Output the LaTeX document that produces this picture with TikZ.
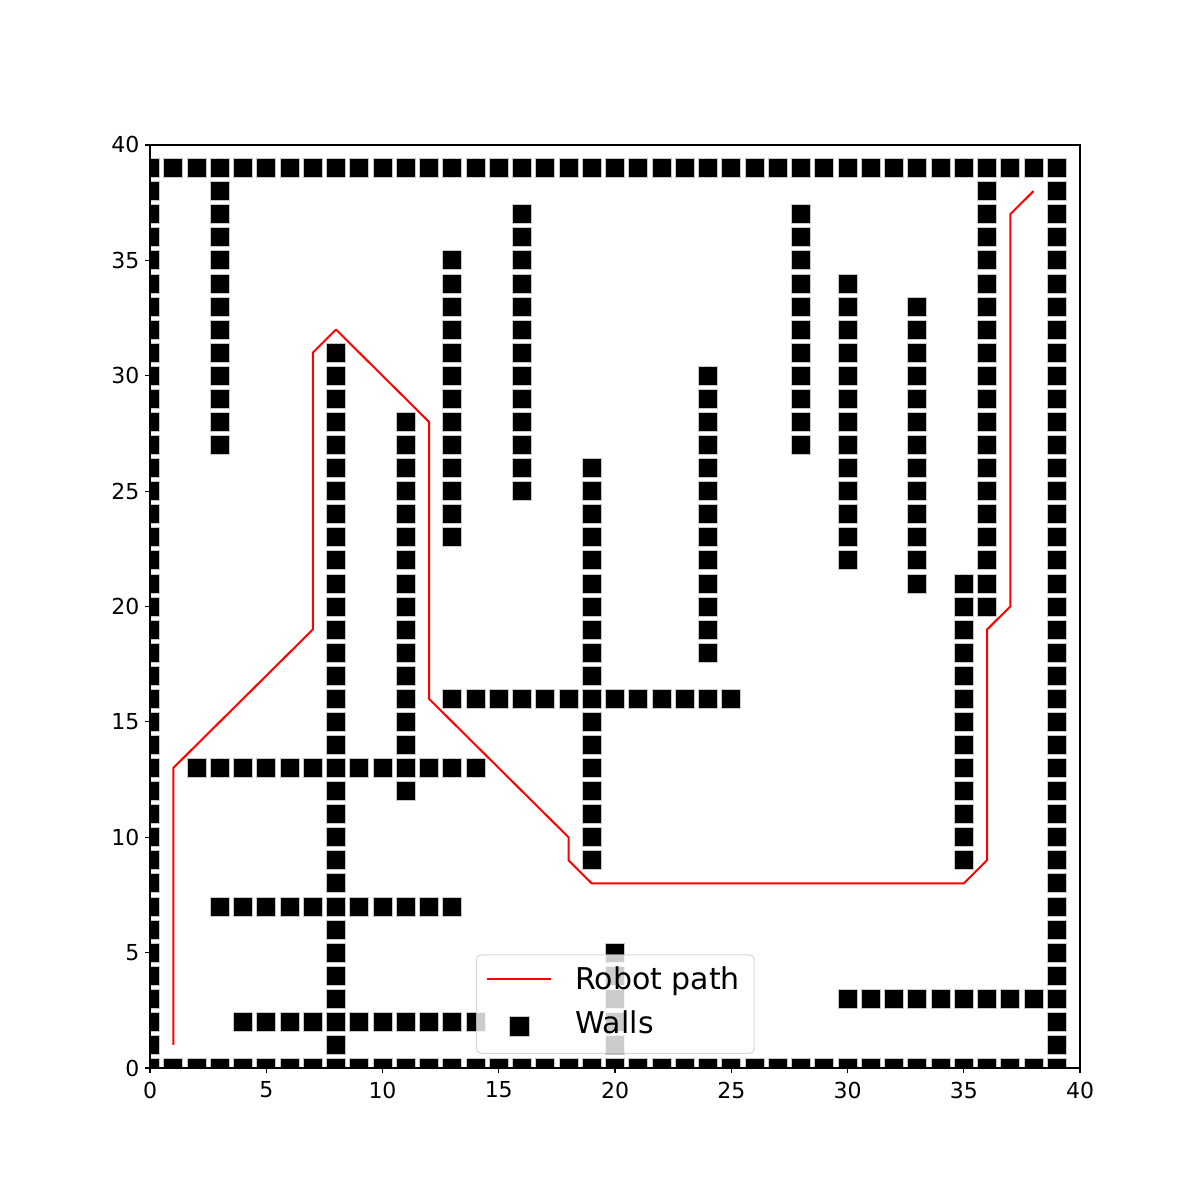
\documentclass[tikz,border=0pt]{standalone}
\usepackage{fontspec}
\setmainfont{DejaVu Sans}
\newcommand\tickfont{\fontsize{22}{26}\selectfont}
\newcommand\legfont{\fontsize{30}{36}\selectfont}
\newcommand\wallsq[2]{\filldraw[wall] (#1,#2) ++(-9.5pt,-9.5pt) rectangle ++(19pt,19pt);}
\begin{document}
\begin{tikzpicture}[x=1pt,y=1pt,
  wall/.style={fill=black,draw=black!22,line width=0.8pt},
  robotpath/.style={draw=red,line width=2pt,line join=round},
  tickmark/.style={draw=black,line width=1.1pt},
  frame/.style={draw=black,line width=1.1pt},
  ticklabel/.style={inner sep=0pt,font=\tickfont},
  leglabel/.style={anchor=base west,inner sep=0pt,font=\legfont}]
\useasboundingbox (0,0) rectangle (1200,1200);
\begin{scope}
  \clip (150,132) rectangle (1080,1055);
  \begin{scope}[shift={(150pt,132pt)},x=23.25pt,y=23.075pt]
    \draw[robotpath] (1,1) -- (1,13) -- (7,19) -- (7,31) -- (8,32) -- (12,28) -- (12,16) -- (18,10) -- (18,9) -- (19,8) -- (35,8) -- (36,9) -- (36,19) -- (37,20) -- (37,37) -- (38,38);
    % border walls
    \foreach \i in {0,...,39} {\wallsq{\i}{0}\wallsq{\i}{39}\wallsq{0}{\i}\wallsq{39}{\i}}
    % vertical walls
    \foreach \y in {27,...,38} {\wallsq{3}{\y}}
    \foreach \y in {1,...,31} {\wallsq{8}{\y}}
    \foreach \y in {12,...,28} {\wallsq{11}{\y}}
    \foreach \y in {23,...,35} {\wallsq{13}{\y}}
    \foreach \y in {25,...,37} {\wallsq{16}{\y}}
    \foreach \y in {9,...,26} {\wallsq{19}{\y}}
    \foreach \y in {1,...,5} {\wallsq{20}{\y}}
    \foreach \y in {18,...,30} {\wallsq{24}{\y}}
    \foreach \y in {27,...,37} {\wallsq{28}{\y}}
    \foreach \y in {22,...,34} {\wallsq{30}{\y}}
    \foreach \y in {21,...,33} {\wallsq{33}{\y}}
    \foreach \y in {9,...,21} {\wallsq{35}{\y}}
    \foreach \y in {20,...,38} {\wallsq{36}{\y}}
    % horizontal walls
    \foreach \x in {4,...,14} {\wallsq{\x}{2}}
    \foreach \x in {30,...,38} {\wallsq{\x}{3}}
    \foreach \x in {3,...,13} {\wallsq{\x}{7}}
    \foreach \x in {2,...,14} {\wallsq{\x}{13}}
    \foreach \x in {13,...,25} {\wallsq{\x}{16}}
  \end{scope}
\end{scope}
% axes frame
\draw[frame] (150,132) rectangle (1080,1055);
% ticks
\foreach \v in {0,5,...,40} {
  \pgfmathsetmacro\px{150+\v*23.25}
  \pgfmathsetmacro\py{132+\v*23.075}
  \draw[tickmark] (\px,132) -- (\px,127.1);
  \node[ticklabel,anchor=north] (xt\v) at (\px,118.3) {\v};
  \draw[tickmark] (150,\py) -- (145.1,\py);
  \node[ticklabel,anchor=east] (yt\v) at (139.5,\py) {\v};
}
% legend
\draw[draw=black!20,fill=white,fill opacity=0.8,draw opacity=0.8,rounded corners=4pt,line width=1pt] (476.7,146.7) rectangle (754,245);
\coordinate (legA) at (486.7,220.7);
\coordinate (legB) at (550.7,220.7);
\draw[robotpath,line cap=butt] (legA) -- (legB);
\filldraw[wall] (519.3,173.3) ++(-10pt,-10pt) rectangle ++(20pt,20pt);
\node[leglabel] (legpath) at (575,210) {Robot path};
\node[leglabel] (legwalls) at (575,166.7) {Walls};
\end{tikzpicture}
\end{document}
